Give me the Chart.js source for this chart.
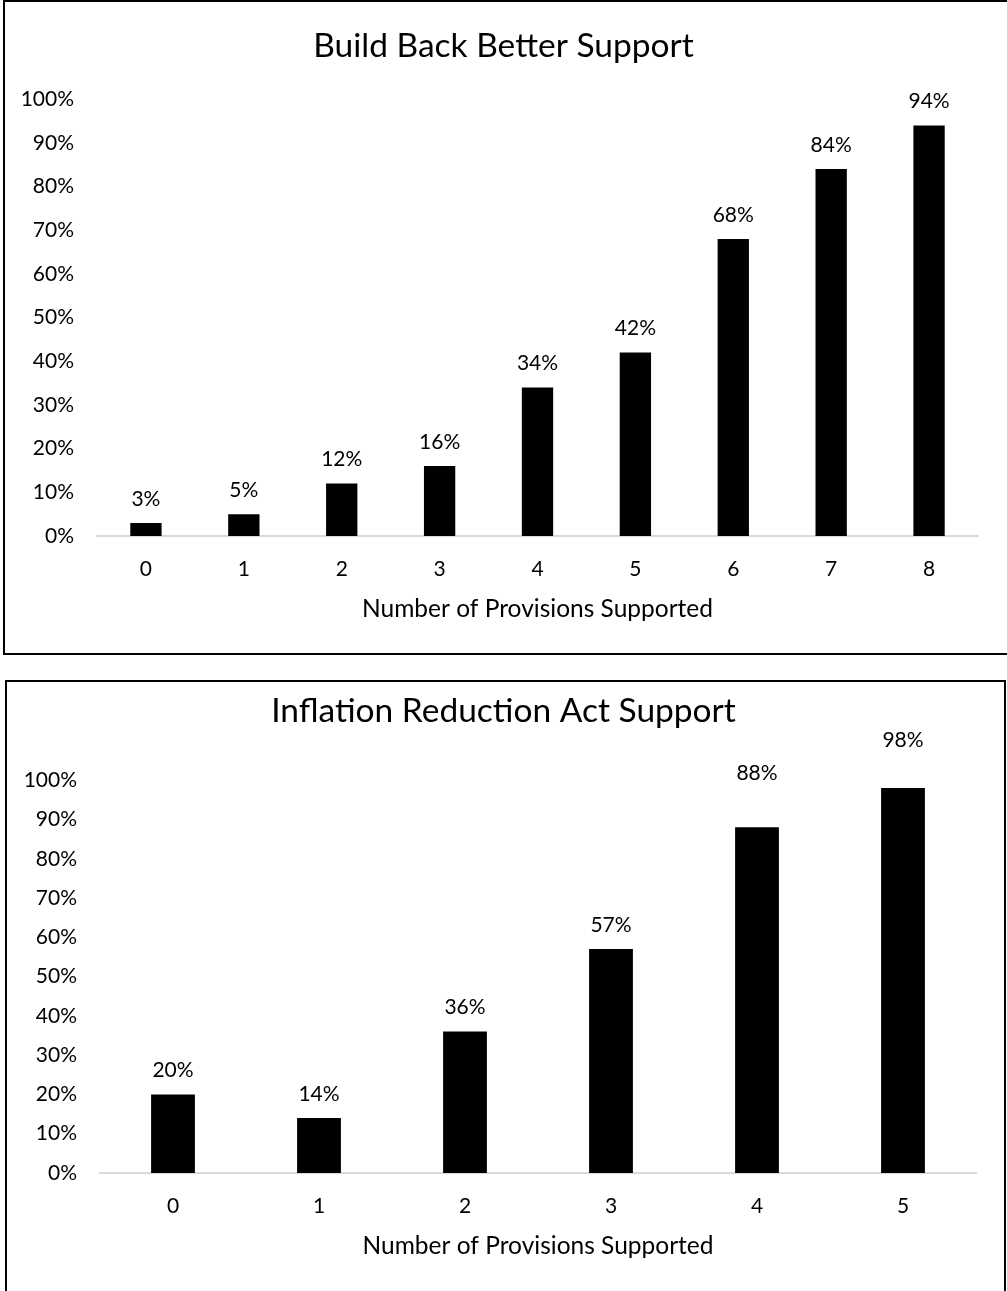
<!DOCTYPE html>
<html>
<head>
<meta charset="utf-8">
<script src="https://cdn.jsdelivr.net/npm/chart.js@4.4.1/dist/chart.umd.min.js"></script>
<style>
  html, body { margin: 0; padding: 0; background: #fff; }
  body { position: relative; width: 1007px; height: 1291px; overflow: hidden; }
  .box { position: absolute; box-sizing: border-box; border: 2px solid #000; }
  #box1 { left: 3px; top: 0px; width: 1020px; height: 655px; }
  #box2 { left: 5px; top: 680px; width: 1001px; height: 640px; }
  canvas { position: absolute; left: 0; }
  #c1 { top: 0; }
  #c2 { top: 667px; }
</style>
</head>
<body>
<div class="box" id="box1"></div>
<div class="box" id="box2"></div>
<canvas id="c1" width="1007" height="654"></canvas>
<canvas id="c2" width="1007" height="624"></canvas>
<script>
// Share of respondents supporting each bill, by number of provisions supported
const bbbTitle = 'Build Back Better Support';
const bbbCategories = ['0', '1', '2', '3', '4', '5', '6', '7', '8'];
const bbbValues = [3, 5, 12, 16, 34, 42, 68, 84, 94];

const iraTitle = 'Inflation Reduction Act Support';
const iraCategories = ['0', '1', '2', '3', '4', '5'];
const iraValues = [20, 14, 36, 57, 88, 98];

const xAxisTitle = 'Number of Provisions Supported';
const yTickStep = 10;
const yMax = 100;

const FONT = 'Lato';

// Writes "NN%" above each bar; some labels sit a little higher than the rest
const valueLabels = {
  id: 'valueLabels',
  afterDatasetsDraw(chart, args, opts) {
    const ctx = chart.ctx;
    const meta = chart.getDatasetMeta(0);
    const data = chart.data.datasets[0].data;
    const lift = opts.lift || [];
    ctx.save();
    ctx.font = '21px ' + FONT;
    ctx.fillStyle = '#000';
    ctx.textAlign = 'center';
    ctx.textBaseline = 'middle';
    meta.data.forEach((bar, i) => {
      ctx.fillText(data[i] + '%', bar.x, bar.y - 24 - (lift[i] || 0));
    });
    ctx.restore();
  }
};

function makeChart(id, title, categories, values, geom) {
  return new Chart(document.getElementById(id), {
    type: 'bar',
    data: {
      labels: categories,
      datasets: [{
        data: values,
        backgroundColor: '#000',
        borderWidth: 0,
        categoryPercentage: 1,
        barPercentage: geom.barPct
      }]
    },
    options: {
      responsive: false,
      animation: false,
      layout: { padding: 0 },
      plugins: {
        legend: { display: false },
        tooltip: { enabled: false },
        valueLabels: { lift: geom.lift },
        title: {
          display: true,
          text: title,
          color: '#000',
          font: { family: FONT, size: 33.5, weight: 'normal', lineHeight: 1.2 },
          padding: { top: geom.titleTop, bottom: geom.titleBottom }
        }
      },
      scales: {
        x: {
          grid: { display: false, drawTicks: false },
          border: { display: true, color: '#d9d9d9', width: 2 },
          ticks: { color: '#000', font: { family: FONT, size: 21 }, padding: 21, maxRotation: 0 },
          title: {
            display: true,
            text: xAxisTitle,
            color: '#000',
            font: { family: FONT, size: 24.5 },
            padding: { top: 0, bottom: 30 }
          },
          afterFit(scale) { scale.height = 118; }
        },
        y: {
          min: 0,
          max: yMax,
          grid: { display: false, drawTicks: false },
          border: { display: false },
          ticks: {
            stepSize: yTickStep,
            color: '#000',
            font: { family: FONT, size: 21 },
            padding: 23,
            callback: v => v + '%'
          },
          afterFit(scale) { scale.width = geom.left; }
        },
        // empty right-hand margin so the title stays centred on the whole card
        gutter: {
          type: 'linear',
          position: 'right',
          grid: { display: false, drawTicks: false },
          border: { display: false },
          ticks: { display: false },
          afterFit(scale) { scale.width = geom.right; }
        }
      }
    },
    plugins: [valueLabels]
  });
}

makeChart('c1', bbbTitle, bbbCategories, bbbValues,
  { left: 97, right: 29, titleTop: 26, titleBottom: 33, barPct: 0.32, lift: [] });
makeChart('c2', iraTitle, iraCategories, iraValues,
  { left: 100, right: 31, titleTop: 24, titleBottom: 49, barPct: 0.30, lift: [0, 0, 0, 0, 30, 24] });
</script>
</body>
</html>
